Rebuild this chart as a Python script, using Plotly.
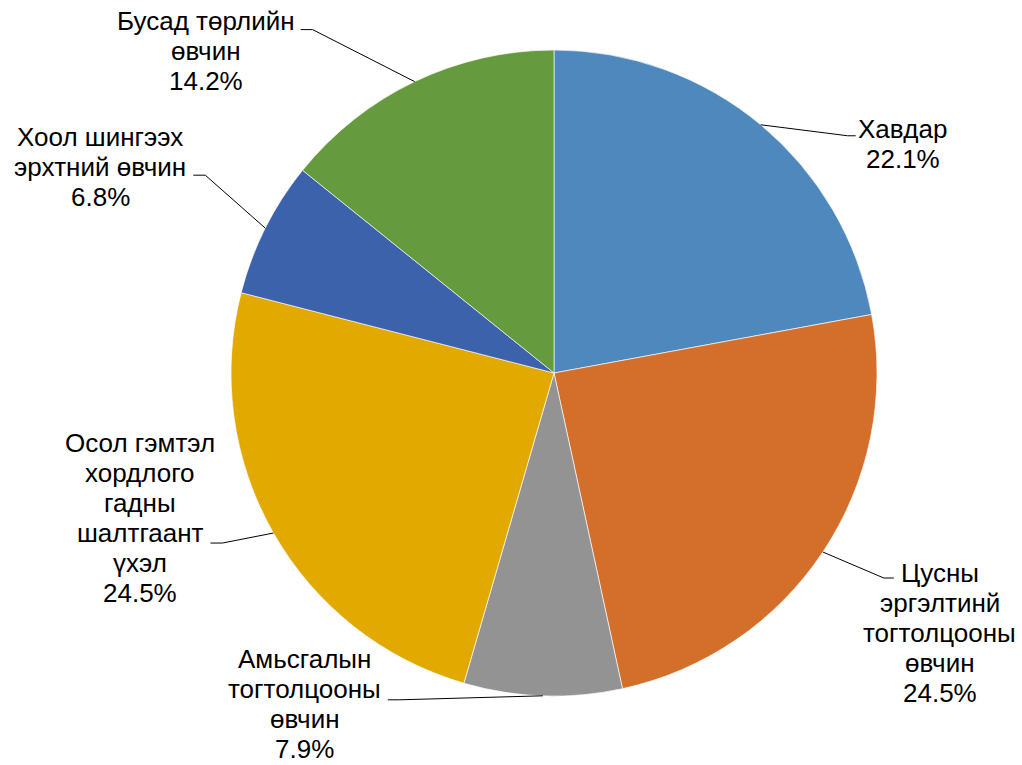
import math
import plotly.graph_objects as go

# ---- data ----
labels = [
    ["Хавдар"],
    ["Цусны", "эргэлтинй", "тогтолцооны", "өвчин"],
    ["Амьсгалын", "тогтолцооны", "өвчин"],
    ["Осол гэмтэл", "хордлого", "гадны", "шалтгаант", "үхэл"],
    ["Хоол шингээх", "эрхтний өвчин"],
    ["Бусад төрлийн", "өвчин"],
]
values = [22.1, 24.5, 7.9, 24.5, 6.8, 14.2]
colors = ["#4F88BD", "#D46E2B", "#939393", "#E2AA00", "#3C62AC", "#659B3E"]

# ---- layout constants (pixels) ----
W, H = 1022, 765
CX, CY, R = 554, 373, 323
LINE_STEP = 30.0
FONT_SIZE = 26
# elbow offset from slice edge point, stub length/direction, label centre offset
elbow_off = [(87, 11), (61, 26), (-143, 4), (-51, 10), (-60, -53), (-102, -52)]
stub = [8, 10, -12, -12, -12, -12]
label_off = [(142, 19), (117, 81), (-238, 8), (-133, -15), (-165, -61), (-209, -31)]


def px(x, y):
    return x / W, 1 - y / H


fig = go.Figure()
fig.add_trace(go.Pie(
    labels=[" ".join(l) for l in labels],
    values=values,
    sort=False,
    direction="clockwise",
    rotation=0,
    textinfo="none",
    hoverinfo="label+percent",
    marker=dict(colors=colors, line=dict(color="rgba(255,255,255,0.8)", width=0.8)),
    domain=dict(x=[(CX - R) / W, (CX + R) / W], y=[1 - (CY + R) / H, 1 - (CY - R) / H]),
    showlegend=False,
))

total = sum(values)
cum = 0.0
shapes, annotations = [], []
for i, v in enumerate(values):
    mid = (cum + v / 2) / total * 2 * math.pi
    cum += v
    ex, ey = CX + R * math.sin(mid), CY - R * math.cos(mid)
    bx, by = ex + elbow_off[i][0], ey + elbow_off[i][1]
    sx = bx + stub[i]
    p0, p1, p2 = px(ex, ey), px(bx, by), px(sx, by)
    shapes.append(dict(
        type="path", xref="paper", yref="paper",
        path=f"M {p0[0]} {p0[1]} L {p1[0]} {p1[1]} L {p2[0]} {p2[1]}",
        line=dict(color="black", width=1),
    ))
    pct = v / total * 100
    lines = labels[i] + [f"{pct:.1f}%"]
    n = len(lines)
    cxl, cyl = ex + label_off[i][0], ey + label_off[i][1]
    for k, t in enumerate(lines):
        yk = cyl + (k - (n - 1) / 2) * LINE_STEP
        lx, ly = px(cxl, yk)
        annotations.append(dict(
            x=lx, y=ly, xref="paper", yref="paper",
            text=t, showarrow=False, align="center",
            xanchor="center", yanchor="middle",
            font=dict(family="Liberation Sans, Arial, sans-serif", size=FONT_SIZE, color="black"),
        ))

fig.update_layout(
    width=W, height=H,
    margin=dict(l=0, r=0, t=0, b=0),
    paper_bgcolor="white", plot_bgcolor="white",
    shapes=shapes, annotations=annotations,
)
fig.write_html("out.html", config={"displayModeBar": False},
               post_script="document.body.style.margin='0';")
